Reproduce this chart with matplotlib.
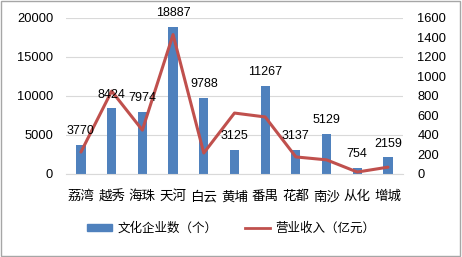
import numpy as np
import matplotlib.pyplot as plt
from matplotlib.lines import Line2D
from matplotlib.patches import Patch

plt.rcParams['font.family'] = ['Noto Sans CJK SC', 'DejaVu Sans']

districts = ['荔湾', '越秀', '海珠', '天河', '白云', '黄埔', '番禺', '花都', '南沙', '从化', '增城']
firms = [3770, 8424, 7974, 18887, 9788, 3125, 11267, 3137, 5129, 754, 2159]
revenue = [225, 850, 450, 1430, 215, 625, 585, 175, 145, 20, 70]

fig = plt.figure(figsize=(4.62, 2.57), dpi=100)
ax = fig.add_axes([0.142, 0.323, 0.731, 0.607])
ax2 = ax.twinx()

x = np.arange(len(districts))
ax.bar(x, firms, width=0.3, color='#4F81BD', zorder=2)
ax2.plot(x, revenue, color='#C0504D', lw=2.2, solid_capstyle='round', zorder=3)

# number labels drawn on the top axes so the line stays behind them
for xi, v in zip(x, firms):
    ax2.annotate(str(v), (xi, v), xycoords=ax.transData, xytext=(0, 5.5),
                 textcoords='offset points', ha='center', va='bottom',
                 fontsize=9, family=['Liberation Sans'], zorder=5)

ax.set_ylim(0, 20000)
ax.set_yticks(range(0, 20001, 5000))
ax2.set_ylim(0, 1600)
ax2.set_yticks(range(0, 1601, 200))
ax.set_xlim(-0.5, len(districts) - 0.5)
ax.set_xticks(x)
ax.set_xticklabels(districts)

ax.grid(axis='y', color='#D9D9D9', lw=0.8, zorder=0)
ax.set_axisbelow(True)
for a in (ax, ax2):
    for s in a.spines.values():
        s.set_visible(False)
    a.tick_params(length=0, labelsize=9.3)
ax.spines['bottom'].set_visible(True)
ax.spines['bottom'].set_color('#D9D9D9')
ax.tick_params(axis='x', labelsize=9.7, pad=11)
ax.tick_params(axis='y', pad=9)
ax2.tick_params(axis='y', pad=10)
for lab in ax.get_yticklabels() + ax2.get_yticklabels():
    lab.set_family(['Liberation Sans'])

handles = [Patch(color='#4F81BD'), Line2D([], [], color='#C0504D', lw=2)]
fig.legend(handles, ['文化企业数（个）', '营业收入（亿元）'], loc='center',
           bbox_to_anchor=(0.5, 0.112), ncol=2, frameon=False, fontsize=9,
           handlelength=2.0, handleheight=0.5, columnspacing=2.2, handletextpad=0.4)

fig.patches.append(plt.Rectangle((0.003, 0.005), 0.992, 0.99, transform=fig.transFigure,
                                 fill=False, edgecolor='#A6A6A6', lw=1))
fig.savefig('out.png', dpi=100)
